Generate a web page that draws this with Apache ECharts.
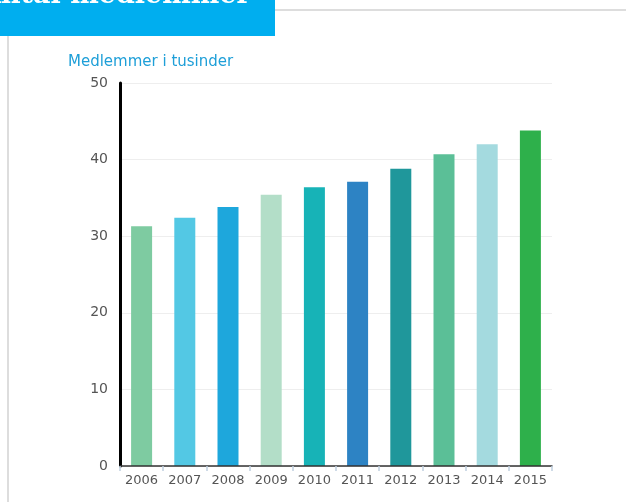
<!DOCTYPE html>
<html>
<head>
<meta charset="utf-8">
<script src="https://cdn.jsdelivr.net/npm/echarts@6/dist/echarts.min.js"></script>
<style>
    html, body { margin: 0; padding: 0; background: #fff; }
    #make { width: 627px; height: 502px; }
</style>
</head>
<body>
<div id="make"></div>
<script>
var years = ['2006', '2007', '2008', '2009', '2010', '2011', '2012', '2013', '2014', '2015'];
var members = [31.3, 32.4, 33.8, 35.4, 36.4, 37.1, 38.8, 40.7, 42.0, 43.8];
var barColors = ['#7ECBA1', '#53C8E4', '#1EA7DC', '#B3DEC8', '#17B3B7',
                 '#2D83C4', '#1F979B', '#5BBF97', '#A4DADF', '#2EB04B'];

var chartDom = document.getElementById('make');
var myChart = echarts.init(chartDom);
var option;

option = {
    animation: false,
    title: {
        text: 'Medlemmer i tusinder',
        left: 63,
        top: 50,
        textStyle: {
            color: '#1E9FD8',
            fontSize: 15,
            fontWeight: 'normal',
            fontFamily: 'DejaVu Sans'
        }
    },
    // banner og rammelinjer
    graphic: [
        { type: 'rect', shape: { x: 0, y: 0, width: 275, height: 36 }, style: { fill: '#00AEEF' } },
        { type: 'text', x: -20, y: -18, style: { text: 'Antal medlemmer', fill: '#fff', font: 'bold 27px "DejaVu Serif"' } },
        { type: 'rect', shape: { x: 275, y: 9, width: 351, height: 2 }, style: { fill: '#DDDDDD' } },
        { type: 'rect', shape: { x: 7, y: 36, width: 2, height: 466 }, style: { fill: '#DDDDDD' } }
    ],
    grid: {
        left: 120,
        right: 75,
        top: 83,
        bottom: 36
    },
    xAxis: {
        type: 'category',
        data: years,
        z: 5,
        axisLine: { lineStyle: { color: '#333', width: 1.5 } },
        axisTick: { show: true, length: 5, lineStyle: { color: '#C0D0E0', width: 1.5 } },
        axisLabel: { color: '#555', fontSize: 13, margin: 8, interval: 0, fontFamily: 'DejaVu Sans' }
    },
    yAxis: {
        type: 'value',
        min: 0,
        max: 50,
        interval: 10,
        axisLine: { show: true, lineStyle: { color: '#000', width: 3 } },
        axisTick: { show: false },
        splitLine: { lineStyle: { color: '#EEEEEE' } },
        axisLabel: { color: '#555', fontSize: 14, margin: 12, fontFamily: 'DejaVu Sans' }
    },
    series: [{
        type: 'bar',
        data: members.map(function (v, i) {
            return { value: v, itemStyle: { color: barColors[i] } };
        }),
        barWidth: 21
    }]
};

option && myChart.setOption(option);
</script>
</body>
</html>
